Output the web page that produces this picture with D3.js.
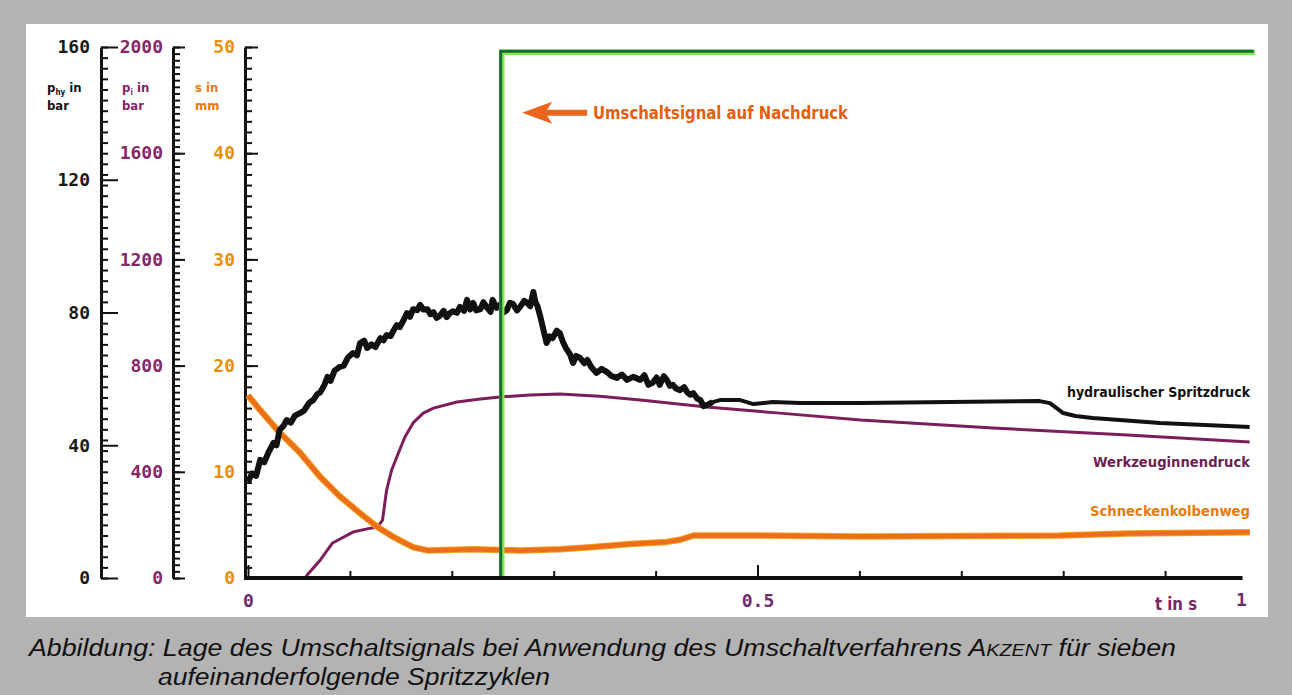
<!DOCTYPE html>
<html>
<head>
<meta charset="utf-8">
<script src="https://cdn.jsdelivr.net/npm/d3@7"></script>
<style>
  body { margin: 0; background: #b3b3b3; }
  svg { display: block; }
  .num text {
    font-family: "DejaVu Sans Mono", "Liberation Mono", monospace;
    font-weight: bold;
    font-size: 18px;
  }
  .lbl { font-family: "DejaVu Sans Condensed", "DejaVu Sans", sans-serif; font-weight: bold; }
  .caption { font-family: "Liberation Sans", Arial, sans-serif; font-style: italic; font-size: 23px; fill: #111; }
</style>
</head>
<body>
<svg id="chart" width="1292" height="695"></svg>
<script>
// tick labels of the three y axes and the time axis
const hyTicks = [0, 40, 80, 120, 160];
const iTicks = [0, 400, 800, 1200, 1600, 2000];
const sTicks = [0, 10, 20, 30, 40, 50];
const timeTicks = [0, 0.5];

// hydraulischer Spritzdruck, [t in s, p_hy in bar]
const hydraulicPressure = [
  [0.000, 29.0], [0.004, 31.5], [0.008, 30.8], [0.012, 35.6], [0.016, 34.9], [0.020, 37.8],
  [0.025, 40.7], [0.028, 40.0], [0.031, 44.6], [0.035, 45.9], [0.038, 47.6], [0.042, 46.8],
  [0.046, 48.9], [0.051, 49.7], [0.055, 50.4], [0.060, 52.8], [0.064, 53.6], [0.068, 55.4],
  [0.071, 56.0], [0.075, 58.2], [0.078, 60.6], [0.081, 59.4], [0.085, 62.5], [0.090, 63.6],
  [0.094, 64.0], [0.098, 66.4], [0.103, 67.8], [0.107, 67.1], [0.110, 70.8], [0.114, 71.5],
  [0.117, 69.3], [0.121, 70.4], [0.125, 69.6], [0.130, 72.3], [0.133, 71.6], [0.136, 73.2],
  [0.140, 72.9], [0.142, 74.1], [0.146, 76.2], [0.149, 75.6], [0.153, 77.9], [0.156, 79.8],
  [0.159, 78.7], [0.162, 81.0], [0.166, 80.7], [0.169, 82.3], [0.172, 80.9], [0.176, 81.0],
  [0.179, 79.5], [0.182, 80.1], [0.185, 78.4], [0.188, 78.9], [0.192, 80.5], [0.195, 78.6],
  [0.198, 79.8], [0.201, 80.4], [0.205, 79.9], [0.208, 81.7], [0.212, 80.5], [0.215, 83.8],
  [0.218, 80.9], [0.221, 82.9], [0.224, 80.6], [0.228, 81.0], [0.231, 83.1], [0.235, 81.3],
  [0.238, 80.2], [0.240, 83.8], [0.244, 81.4], [0.247, 82.3], [0.251, 80.1], [0.254, 80.7],
  [0.257, 82.9], [0.260, 82.6], [0.264, 80.6], [0.267, 81.7], [0.271, 83.5], [0.274, 82.9],
  [0.277, 81.9], [0.280, 86.2], [0.282, 83.2], [0.284, 82.0], [0.287, 78.6], [0.290, 74.7],
  [0.293, 70.8], [0.296, 72.8], [0.299, 72.3], [0.303, 74.5], [0.306, 73.8], [0.309, 71.2],
  [0.312, 69.3], [0.316, 67.4], [0.319, 64.8], [0.322, 66.9], [0.326, 66.3], [0.330, 64.7],
  [0.333, 65.7], [0.337, 63.5], [0.342, 61.8], [0.347, 63.0], [0.352, 62.1], [0.357, 60.8],
  [0.362, 60.3], [0.367, 61.3], [0.372, 59.7], [0.378, 60.6], [0.385, 59.7], [0.389, 61.1],
  [0.393, 58.2], [0.397, 58.8], [0.401, 60.4], [0.404, 58.2], [0.408, 60.8], [0.411, 59.7],
  [0.414, 57.9], [0.417, 58.2], [0.420, 57.1], [0.424, 56.6], [0.428, 57.5], [0.431, 56.0],
  [0.434, 55.2], [0.437, 55.7], [0.441, 54.0], [0.444, 53.6], [0.447, 51.8], [0.450, 52.1],
  [0.456, 53.0], [0.463, 53.6], [0.483, 53.6], [0.496, 52.4], [0.515, 53.0], [0.542, 52.7],
  [0.601, 52.7], [0.689, 53.0], [0.777, 53.3], [0.787, 52.7], [0.800, 49.7], [0.812, 48.8],
  [0.829, 48.2], [0.895, 46.7], [0.983, 45.5]
];

// Werkzeuginnendruck, [t in s, p_i in bar]
const cavityPressure = [
  [0.000, 0], [0.056, 0], [0.058, 11], [0.071, 68], [0.083, 132], [0.103, 173],
  [0.117, 185], [0.127, 192], [0.132, 218], [0.136, 331], [0.141, 407], [0.146, 456],
  [0.154, 531], [0.162, 584], [0.172, 621], [0.182, 640], [0.205, 663], [0.228, 674],
  [0.247, 682], [0.277, 689], [0.306, 693], [0.345, 685], [0.385, 670], [0.450, 644],
  [0.522, 621], [0.601, 595], [0.731, 565], [0.863, 539], [0.983, 512]
];

// Schneckenkolbenweg, [t in s, s in mm]
const screwTravel = [
  [0.000, 17.2], [0.012, 15.8], [0.031, 13.7], [0.051, 11.8], [0.071, 9.5], [0.090, 7.7],
  [0.110, 6.1], [0.127, 4.8], [0.142, 3.9], [0.162, 2.9], [0.176, 2.6], [0.221, 2.7],
  [0.267, 2.6], [0.306, 2.7], [0.336, 2.9], [0.375, 3.2], [0.411, 3.4], [0.424, 3.6],
  [0.437, 4.0], [0.502, 4.0], [0.601, 3.9], [0.797, 4.0], [0.863, 4.2], [0.983, 4.3]
];

// Umschaltsignal from the switching moment on, drawn on the s scale
const switchSignal = [[0.249, 0], [0.249, 49.5], [0.988, 49.5]];

const svg = d3.select('#chart');

// white figure panel
svg.append('rect').attr('x', 26).attr('y', 24).attr('width', 1242).attr('height', 593).attr('fill', '#fff');

const x = d3.scaleLinear().domain([0, 1]).range([248, 1267]);
const yHy = d3.scaleLinear().domain([0, 160]).range([578, 47]);
const yI = d3.scaleLinear().domain([0, 2000]).range([578, 47]);
const yS = d3.scaleLinear().domain([0, 50]).range([578, 47]);

function drawYAxis(xPos, scale, minorStep, majors, majorLen, pad, color) {
  const g = svg.append('g').attr('transform', `translate(${xPos},0)`);
  const max = scale.domain()[1];
  g.append('g')
    .call(d3.axisLeft(scale).tickValues(d3.range(0, max + minorStep / 2, minorStep)).tickSize(-7).tickSizeOuter(0).tickFormat(''))
    .call(a => a.select('.domain').remove())
    .selectAll('line').attr('stroke', '#111').attr('stroke-width', 2);
  const major = g.append('g').attr('class', 'num')
    .call(d3.axisLeft(scale).tickValues(majors).tickSize(-majorLen).tickSizeOuter(0).tickPadding(pad).tickFormat(d3.format('d')));
  major.select('.domain').attr('stroke', '#111').attr('stroke-width', 3);
  major.selectAll('line').attr('stroke', '#111').attr('stroke-width', 2);
  major.selectAll('text').attr('fill', color);
}

drawYAxis(101, yHy, 3.2, hyTicks, 17, 11, '#1a1a14');
drawYAxis(173, yI, 25, iTicks, 12, 10, '#86266a');
drawYAxis(245, yS, 1, sTicks, 13, 10, '#e8900c');

// axis titles
function axisTitle(xPos, sub, unit, color) {
  const t = svg.append('text').attr('class', 'lbl').attr('x', xPos).attr('y', 92).attr('fill', color).attr('font-size', 13);
  if (sub !== null) {
    t.append('tspan').text('p');
    t.append('tspan').attr('font-size', 8).attr('dy', 3).text(sub);
    t.append('tspan').attr('dy', -3).text(' in');
  } else {
    t.text('s in');
  }
  svg.append('text').attr('class', 'lbl').attr('x', xPos).attr('y', 110).attr('fill', color).attr('font-size', 13).text(unit);
}
axisTitle(47, 'hy', 'bar', '#141414');
axisTitle(122, 'i', 'bar', '#862360');
axisTitle(195, null, 'mm', '#e8780c');

// curves
const line = ys => d3.line().x(d => x(d[0])).y(d => ys(d[1]));

svg.append('path').datum(cavityPressure).attr('d', line(yI))
  .attr('fill', 'none').attr('stroke', '#7c1d5c').attr('stroke-width', 3).attr('stroke-linejoin', 'round');
svg.append('path').datum(screwTravel).attr('d', line(yS))
  .attr('fill', 'none').attr('stroke', '#f0a020').attr('stroke-width', 6.5).attr('stroke-linejoin', 'round');
svg.append('path').datum(screwTravel).attr('d', line(yS))
  .attr('fill', 'none').attr('stroke', '#ec6e18').attr('stroke-width', 4.5).attr('stroke-linejoin', 'round');
// seven overlapping cycles make the early part a wide band, the holding part a narrow one
svg.append('path').datum(hydraulicPressure.filter(d => d[0] <= 0.46)).attr('d', line(yHy))
  .attr('fill', 'none').attr('stroke', '#111').attr('stroke-width', 6).attr('stroke-linejoin', 'round');
svg.append('path').datum(hydraulicPressure.filter(d => d[0] >= 0.45)).attr('d', line(yHy))
  .attr('fill', 'none').attr('stroke', '#111').attr('stroke-width', 4).attr('stroke-linejoin', 'round');

svg.append('path').datum(switchSignal).attr('d', line(yS))
  .attr('fill', 'none').attr('stroke', '#7ef23a').attr('stroke-width', 5.5);
svg.append('path').datum(switchSignal).attr('d', line(yS))
  .attr('transform', 'translate(-1,-1)')
  .attr('fill', 'none').attr('stroke', '#17683a').attr('stroke-width', 3);

// time axis, drawn over the foot of the signal
const xAxisG = svg.append('g').attr('transform', 'translate(0,578)');
xAxisG.append('g')
  .call(d3.axisBottom(x).tickValues(d3.range(0.1, 0.95, 0.1)).tickSize(-7).tickSizeOuter(0).tickFormat(''))
  .call(a => a.select('.domain').remove())
  .selectAll('line').attr('stroke', '#111').attr('stroke-width', 2);
const xMajor = xAxisG.append('g').attr('class', 'num')
  .call(d3.axisBottom(x).tickValues(timeTicks).tickSize(-13).tickSizeOuter(0).tickPadding(16)
    .tickFormat(d => d === 0 ? '0' : d3.format('.1f')(d)));
xMajor.select('.domain').remove();
xMajor.selectAll('line').attr('stroke', '#111').attr('stroke-width', 2);
xMajor.selectAll('text').attr('fill', '#6e2a6e');
xAxisG.append('line').attr('x1', 244).attr('x2', x(0.976)).attr('stroke', '#111').attr('stroke-width', 4);
xAxisG.append('g').attr('class', 'num').append('text')
  .attr('x', x(0.975)).attr('y', 28).attr('text-anchor', 'middle').attr('fill', '#6e2a6e').text('1');

svg.append('text').attr('class', 'lbl').attr('x', 1155).attr('y', 610).attr('font-size', 17)
  .attr('textLength', 42).attr('lengthAdjust', 'spacingAndGlyphs').attr('fill', '#7a2664').text('t in s');

// annotation
const arrow = svg.append('g').attr('transform', `translate(${x(0.269)},${yS(43.8)})`);
arrow.append('path').attr('d', 'M0,0 L30,-11 L25,-3 L65,-3 L65,3 L25,3 L30,11 Z').attr('fill', '#ea661c');
svg.append('text').attr('class', 'lbl').attr('x', 593).attr('y', yS(43.8) + 6).attr('font-size', 17)
  .attr('textLength', 255).attr('lengthAdjust', 'spacingAndGlyphs').attr('fill', '#e2600e')
  .text('Umschaltsignal auf Nachdruck');

// curve labels
const curveLabels = [
  {text: 'hydraulischer Spritzdruck', y: 397, w: 183, color: '#111'},
  {text: 'Werkzeuginnendruck', y: 467, w: 157, color: '#6c1f50'},
  {text: 'Schneckenkolbenweg', y: 516, w: 160, color: '#e87a10'}
];
svg.selectAll('.curveLabel').data(curveLabels).join('text')
  .attr('class', 'lbl curveLabel')
  .attr('x', d => 1250 - d.w).attr('y', d => d.y).attr('font-size', 14)
  .attr('textLength', d => d.w).attr('lengthAdjust', 'spacingAndGlyphs')
  .attr('fill', d => d.color).text(d => d.text);

// caption
const cap1 = svg.append('text').attr('class', 'caption').attr('x', 29).attr('y', 656)
  .attr('textLength', 1147).attr('lengthAdjust', 'spacingAndGlyphs');
cap1.append('tspan').text('Abbildung: Lage des Umschaltsignals bei Anwendung des Umschaltverfahrens A');
cap1.append('tspan').attr('font-size', 17).text('KZENT');
cap1.append('tspan').text(' für sieben');
svg.append('text').attr('class', 'caption').attr('x', 158).attr('y', 685)
  .attr('textLength', 392).attr('lengthAdjust', 'spacingAndGlyphs')
  .text('aufeinanderfolgende Spritzzyklen');
</script>
</body>
</html>
